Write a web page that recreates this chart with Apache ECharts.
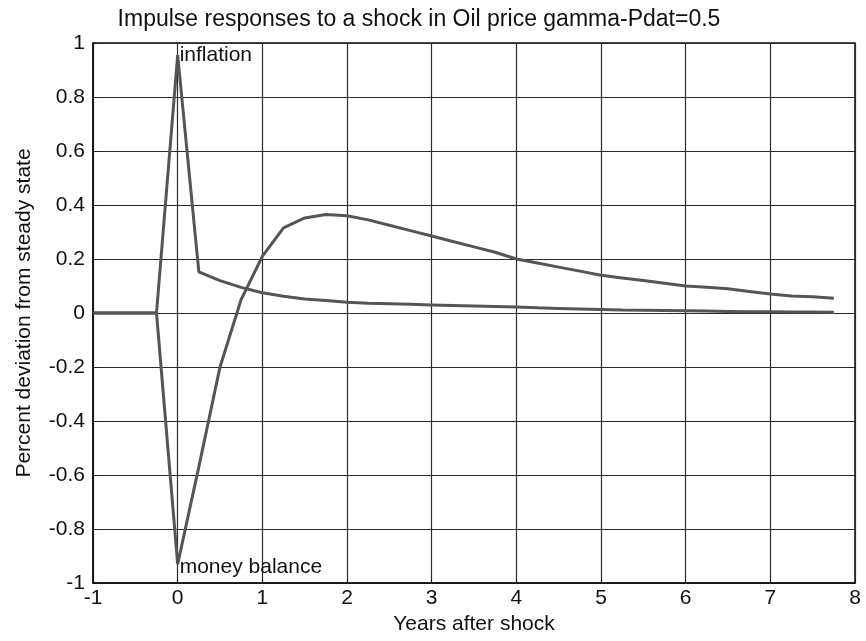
<!DOCTYPE html>
<html>
<head>
<meta charset="utf-8">
<script src="https://cdn.jsdelivr.net/npm/echarts@6/dist/echarts.min.js"></script>
<style>html,body{margin:0;padding:0;background:#fff;}#c{width:866px;height:641px;}</style>
</head>
<body>
<div id="c"></div>
<script>
var years = [-1,-0.75,-0.5,-0.25,0,0.25,0.5,0.75,1,1.25,1.5,1.75,2,2.25,2.5,2.75,3,3.25,3.5,3.75,4,4.25,4.5,4.75,5,5.25,5.5,5.75,6,6.25,6.5,6.75,7,7.25,7.5,7.75];
var inflation = [0,0,0,0,0.955,0.152,0.12,0.095,0.075,0.062,0.052,0.046,0.04,0.036,0.034,0.032,0.03,0.028,0.026,0.024,0.022,0.019,0.017,0.015,0.013,0.011,0.01,0.009,0.008,0.007,0.006,0.005,0.005,0.004,0.004,0.003];
var moneyBalance = [0,0,0,0,-0.93,-0.57,-0.2,0.05,0.21,0.315,0.352,0.365,0.36,0.345,0.325,0.305,0.285,0.265,0.245,0.225,0.2,0.185,0.17,0.155,0.14,0.13,0.12,0.11,0.1,0.095,0.09,0.08,0.07,0.063,0.06,0.055];
var titleText = 'Impulse responses to a shock in Oil price gamma-Pdat=0.5';
var xName = 'Years after shock';
var yName = 'Percent deviation from steady state';

function pairs(xs, ys){ return xs.map(function(x,i){ return [x, ys[i]]; }); }

var chart = echarts.init(document.getElementById('c'));
var font = 'Liberation Sans, Arial, sans-serif';
var fs = 21;
chart.setOption({
  animation: false,
  backgroundColor: '#fff',
  title: {
    text: titleText, left: 414, top: 3, textAlign: 'center',
    textStyle: {fontFamily: font, fontSize: 23, fontWeight: 'normal', color: '#111'}
  },
  grid: {left: 93, top: 43, right: 11, bottom: 58, show: true, borderColor: '#111', borderWidth: 1.5},
  xAxis: {
    type: 'value', min: -1, max: 8, interval: 1,
    name: xName, nameLocation: 'middle', nameGap: 31,
    nameTextStyle: {fontFamily: font, fontSize: fs, color: '#111'},
    axisLine: {onZero: false, lineStyle: {color: '#111', width: 1.5}},
    axisTick: {inside: true, length: 4, lineStyle: {color: '#111'}},
    axisLabel: {fontFamily: font, fontSize: fs, color: '#111', margin: 5},
    splitLine: {show: true, lineStyle: {color: '#2a2a2a', width: 1.2}}
  },
  yAxis: {
    type: 'value', min: -1, max: 1, interval: 0.2,
    name: yName, nameLocation: 'middle', nameGap: 58,
    nameTextStyle: {fontFamily: font, fontSize: fs, color: '#111'},
    axisLine: {onZero: false, lineStyle: {color: '#111', width: 1.5}},
    axisTick: {inside: true, length: 4, lineStyle: {color: '#111'}},
    axisLabel: {fontFamily: font, fontSize: fs, color: '#111', margin: 8,
      formatter: function(v){ var r = Math.round(v*10)/10; return String(r === 0 ? 0 : r); }},
    splitLine: {show: true, lineStyle: {color: '#2a2a2a', width: 1.2}}
  },
  series: [
    {
      name: 'inflation', type: 'line', data: pairs(years, inflation),
      symbol: 'none', lineStyle: {color: '#555', width: 3},
      markPoint: {
        symbol: 'circle', symbolSize: 0,
        data: [{coord: [0, 0.955], value: 'inflation'}],
        label: {show: true, position: 'right', offset: [-3, 0], formatter: 'inflation',
          fontFamily: font, fontSize: fs, color: '#111'}
      }
    },
    {
      name: 'money balance', type: 'line', data: pairs(years, moneyBalance),
      symbol: 'none', lineStyle: {color: '#555', width: 3},
      markPoint: {
        symbol: 'circle', symbolSize: 0,
        data: [{coord: [0, -0.93], value: 'money balance'}],
        label: {show: true, position: 'right', offset: [-3, 3], formatter: 'money balance',
          fontFamily: font, fontSize: fs, color: '#111'}
      }
    }
  ]
});
</script>
</body>
</html>
